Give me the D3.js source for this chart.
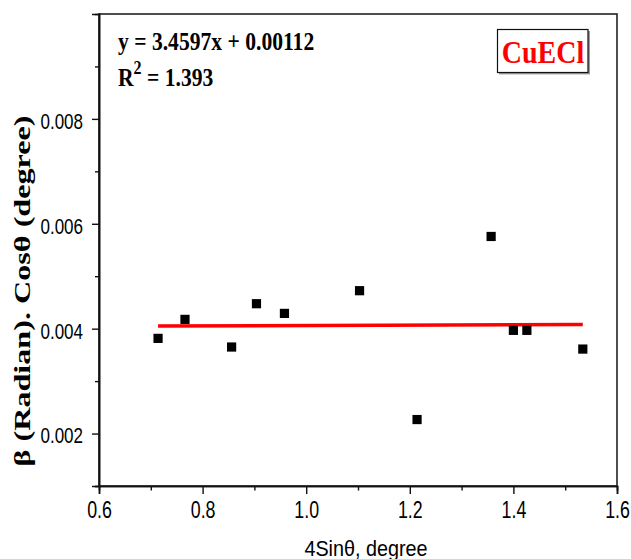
<!DOCTYPE html>
<html>
<head>
<meta charset="utf-8">
<script src="https://cdn.jsdelivr.net/npm/d3@7"></script>
<style>
  body { margin: 0; background: #fff; }
  svg { display: block; }
</style>
</head>
<body>
<svg id="chart" width="631" height="559"></svg>
<script>
// data
const sinTheta = [0.714, 0.766, 0.856, 0.904, 0.958, 1.103, 1.214, 1.357, 1.400, 1.426, 1.534];
const betaCos = [0.003815, 0.004177, 0.00365, 0.004476, 0.004291, 0.004724, 0.002267, 0.005758, 0.003968, 0.003968, 0.003611];
const fitX = [0.714, 1.534];
const fitY = [0.00405, 0.00408];
const xMajor = [0.6, 0.8, 1.0, 1.2, 1.4, 1.6];
const xMinor = [0.7, 0.9, 1.1, 1.3, 1.5];
const yMajor = [0.002, 0.004, 0.006, 0.008];
const yMinor = [0.001, 0.003, 0.005, 0.007, 0.009];
const equation = 'y = 3.4597x + 0.00112';
const rSquared = '1.393';
const sampleName = 'CuECl';

const width = 631;
const height = 559;
const margin = { top: 14, right: 14, bottom: 73, left: 99 };
const sans = '"Liberation Sans", Arial, sans-serif';
const serif = '"Liberation Serif", "Times New Roman", serif';

const svg = d3.select('#chart');

const xScale = d3.scaleLinear().domain([0.6, 1.6]).range([margin.left, width - margin.right]);
const yScale = d3.scaleLinear().domain([0.001, 0.010]).range([height - margin.bottom, margin.top]);

const points = sinTheta.map((x, i) => ({ x: x, y: betaCos[i] }));
const fit = fitX.map((x, i) => ({ x: x, y: fitY[i] }));

// frame
svg.append('rect')
  .attr('x', margin.left)
  .attr('y', margin.top)
  .attr('width', width - margin.left - margin.right)
  .attr('height', height - margin.top - margin.bottom)
  .attr('fill', 'none')
  .attr('stroke', '#222')
  .attr('stroke-width', 1.6);

// x axis
const gx = svg.append('g')
  .attr('transform', `translate(0,${height - margin.bottom})`)
  .call(d3.axisBottom(xScale).tickValues(xMajor).tickSize(8).tickFormat(d3.format('.1f')));
svg.append('g')
  .attr('transform', `translate(0,${height - margin.bottom})`)
  .call(d3.axisBottom(xScale).tickValues(xMinor).tickSize(4.5).tickFormat(''));

// y axis
const gy = svg.append('g')
  .attr('transform', `translate(${margin.left},0)`)
  .call(d3.axisLeft(yScale).tickValues(yMajor).tickSize(7).tickFormat(d3.format('.3f')));
svg.append('g')
  .attr('transform', `translate(${margin.left},0)`)
  .call(d3.axisLeft(yScale).tickValues(yMinor).tickSize(4).tickFormat(''));

svg.selectAll('.domain').attr('stroke', '#111').attr('stroke-width', 1.6);
svg.selectAll('.tick line').attr('stroke', '#111').attr('stroke-width', 1.4);

gx.selectAll('.tick text')
  .attr('y', null).attr('dy', null)
  .attr('transform', 'translate(0,32) scale(1,1.3)')
  .style('font', `17.8px ${sans}`)
  .attr('fill', '#000');

gy.selectAll('.tick text')
  .attr('x', null).attr('dy', null)
  .attr('transform', 'translate(-16,9.4) scale(1,1.25)')
  .style('font', `17px ${sans}`)
  .attr('fill', '#000');

// axis titles
svg.append('text')
  .attr('transform', `translate(${(305 + 427) / 2},556) scale(1,1.1)`)
  .attr('text-anchor', 'middle')
  .style('font', `19.8px ${sans}`)
  .attr('fill', '#000')
  .text('4Sinθ, degree');

svg.append('text')
  .attr('transform', 'translate(30,291) rotate(-90) scale(1.34,1)')
  .attr('text-anchor', 'middle')
  .style('font', `bold 24px ${serif}`)
  .attr('fill', '#000')
  .text('β (Radian). Cosθ (degree)');

// fit line
svg.append('path')
  .datum(fit)
  .attr('fill', 'none')
  .attr('stroke', '#ff0000')
  .attr('stroke-width', 3.5)
  .attr('d', d3.line().x(d => xScale(d.x)).y(d => yScale(d.y)));

// points
svg.append('g')
  .selectAll('rect')
  .data(points)
  .join('rect')
  .attr('x', d => xScale(d.x) - 4.6)
  .attr('y', d => yScale(d.y) - 4.6)
  .attr('width', 9.2)
  .attr('height', 9.2)
  .attr('fill', '#000');

// equation text
svg.append('text')
  .attr('transform', 'translate(118,50) scale(1,1.14)')
  .style('font', `bold 21.6px ${serif}`)
  .attr('fill', '#000')
  .text(equation);

const r2 = svg.append('text')
  .attr('transform', 'translate(118,85.7) scale(1,1.14)')
  .style('font', `bold 21.6px ${serif}`)
  .attr('fill', '#000');
r2.append('tspan').text('R');
r2.append('tspan').attr('dy', -10).style('font-size', '16px').text('2');
r2.append('tspan').attr('dy', 10).text(' = ' + rSquared);

// sample label box
svg.append('rect')
  .attr('x', 499).attr('y', 31)
  .attr('width', 91).attr('height', 43.4)
  .attr('fill', '#999');
svg.append('rect')
  .attr('x', 497.5).attr('y', 29.5)
  .attr('width', 90.5).attr('height', 43)
  .attr('fill', '#fff')
  .attr('stroke', '#111')
  .attr('stroke-width', 1.2);
svg.append('text')
  .attr('transform', 'translate(543,63.3) scale(1,1.15)')
  .attr('text-anchor', 'middle')
  .style('font', `bold 28px ${serif}`)
  .attr('fill', '#ff0000')
  .text(sampleName);
</script>
</body>
</html>
